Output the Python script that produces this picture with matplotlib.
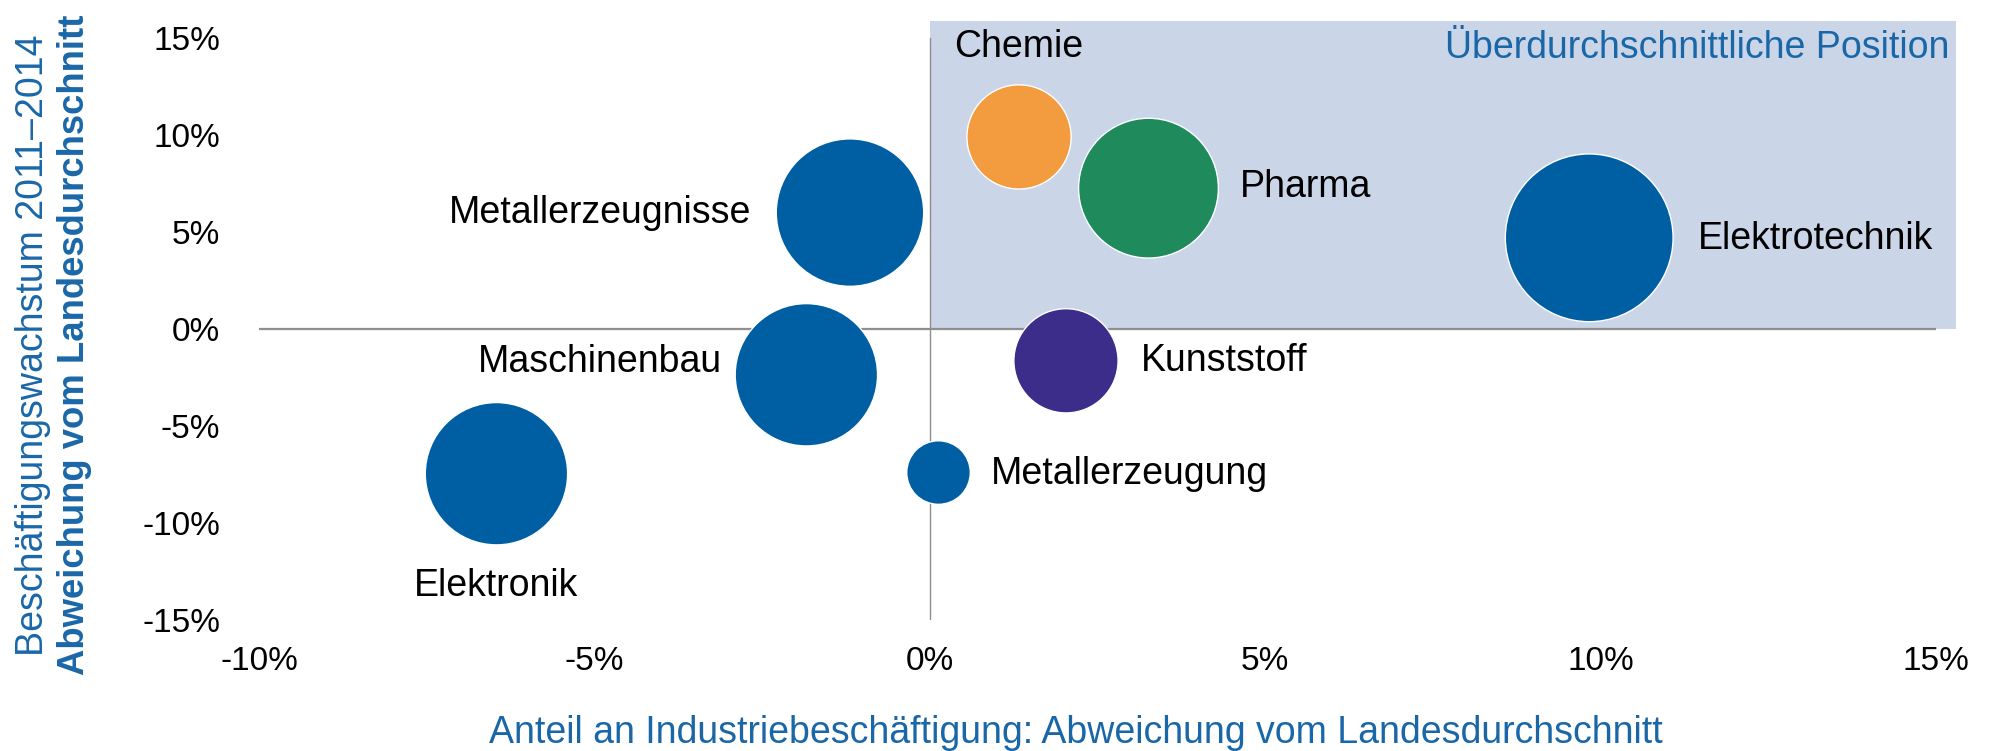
import matplotlib.pyplot as plt
from matplotlib.patches import Rectangle

plt.rcParams['font.family'] = ['Liberation Sans', 'DejaVu Sans']

# Daten
branchen = ["Chemie", "Pharma", "Elektrotechnik", "Metallerzeugnisse",
            "Maschinenbau", "Kunststoff", "Metallerzeugung", "Elektronik"]
anteil = [1.33, 3.26, 9.83, -1.19, -1.84, 2.03, 0.13, -6.46]      # x, %
wachstum = [9.9, 7.26, 4.7, 6.0, -2.36, -1.64, -7.4, -7.46]       # y, %
groesse = [41, 55, 66, 58, 56, 41, 25, 56]                        # Blasenradius (rel.)
farben = ["#F39C3F", "#1F8A5B", "#005FA3", "#005FA3",
          "#005FA3", "#3C2D8A", "#005FA3", "#005FA3"]

# Beschriftungs-Versatz in Punkten und Ausrichtung
offsets = [(0, 65), (66, 1), (78, -1), (-71, 0), (-61, 9), (54, 0), (38, -1), (0, -81)]
ausr = ["center", "left", "left", "right", "right", "left", "left", "center"]

blau = "#1A67A8"

fig = plt.figure(figsize=(19.93, 7.51), dpi=100)
ax = fig.add_axes([259 / 1993, 1 - 620 / 751, (1936 - 259) / 1993, (620 - 38) / 751])
ax.set_xlim(-10, 15)
ax.set_ylim(-15, 15)

# Überdurchschnittlicher Bereich
ax.add_patch(Rectangle((0, 0), 15.3, 15.9, facecolor="#CBD5E8", edgecolor="none",
                       clip_on=False, zorder=0))
ax.axhline(0, color="#8E8E8E", lw=1.6, zorder=1)
ax.axvline(0, color="#8E8E8E", lw=1.0, zorder=1)

s = [(2 * 0.915 * g) ** 2 for g in groesse]
ax.scatter(anteil, wachstum, s=s, c=farben, edgecolors="white", linewidths=1, zorder=3)

for name, x, y, off, ha in zip(branchen, anteil, wachstum, offsets, ausr):
    ax.annotate(name, (x, y), xytext=off, textcoords="offset points",
                ha=ha, va="center", fontsize=27, color="black", zorder=4)

ax.text(15.2, 14.5, "Überdurchschnittliche Position", ha="right", va="center",
        fontsize=27, color=blau)

ax.set_xticks([-10, -5, 0, 5, 10, 15])
ax.set_xticklabels(["-10%", "-5%", "0%", "5%", "10%", "15%"])
ax.set_yticks([-15, -10, -5, 0, 5, 10, 15])
ax.set_yticklabels(["-15%", "-10%", "-5%", "0%", "5%", "10%", "15%"])
ax.tick_params(length=0, labelsize=24, pad=0)
ax.tick_params(axis="y", pad=28)
ax.tick_params(axis="x", pad=19)
for sp in ax.spines.values():
    sp.set_visible(False)

fig.text(1076 / 1993, 1 - 733 / 751, "Anteil an Industriebeschäftigung: Abweichung vom Landesdurchschnitt",
         ha="center", va="center", fontsize=27, color=blau)
fig.text(33 / 1993, 1 - 345 / 751, "Beschäftigungswachstum 2011–2014",
         rotation=90, ha="center", va="center", fontsize=27, color=blau)
fig.text(75 / 1993, 1 - 345 / 751, "Abweichung vom Landesdurchschnitt",
         rotation=90, ha="center", va="center", fontsize=26.3, color=blau, fontweight="bold")

fig.savefig("out.png", dpi=100)
